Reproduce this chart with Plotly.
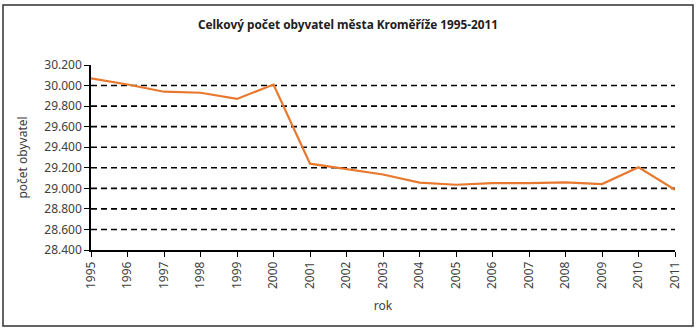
import plotly.graph_objects as go

years = list(range(1995, 2012))
population = [30070, 30010, 29940, 29930, 29870, 30010, 29240, 29185, 29135,
              29055, 29035, 29050, 29050, 29058, 29042, 29205, 28985]
y_ticks = [28400, 28600, 28800, 29000, 29200, 29400, 29600, 29800, 30000, 30200]
grid_values = [28600, 28800, 29000, 29200, 29400, 29600, 29800, 30000]

title_text = "Celkový počet obyvatel města Kroměříže 1995-2011"
x_title = "rok"
y_title = "počet obyvatel"

FONT = "Noto Sans"
TXT = "#404040"

fig = go.Figure()
fig.add_trace(go.Scatter(x=years, y=population, mode="lines",
                         line=dict(color="#E8782E", width=2.2), showlegend=False,
                         cliponaxis=False, hoverinfo="skip"))

L, R, T, B = 91, 25, 65, 79
W, H = 700, 329
pw, ph = W - L - R, H - T - B

shapes = []
for g in grid_values:
    shapes.append(dict(type="line", xref="paper", yref="y", x0=0, x1=1, y0=g, y1=g,
                       line=dict(color="black", width=1.6, dash="6px,4px"), layer="below"))


def px2x(px):
    return (px - L) / pw


def py2y(py):
    return (H - B - py) / ph


# outer chart border
shapes.append(dict(type="rect", xref="paper", yref="paper",
                   x0=px2x(3), x1=px2x(693), y0=py2y(326), y1=py2y(5),
                   line=dict(color="#303030", width=1.5), fillcolor="rgba(0,0,0,0)"))

fig.update_layout(
    width=W, height=H,
    margin=dict(l=L, r=R, t=T, b=B),
    paper_bgcolor="white", plot_bgcolor="white",
    separators=",.",
    shapes=shapes,
    title=dict(text="<b>" + title_text + "</b>", x=348 / W, xanchor="center",
               y=1 - 25 / H, yanchor="middle",
               font=dict(family=FONT, size=11.8, color="#202020")),
    xaxis=dict(range=[1995, 2011], tickmode="array", tickvals=years,
               ticktext=[str(y) for y in years], tickangle=-90,
               showgrid=False, zeroline=False, showline=True, linecolor="black",
               linewidth=1.5, ticks="outside", ticklen=5, tickcolor="black",
               tickfont=dict(family=FONT, size=12, color=TXT),
               title=dict(text=x_title, font=dict(family=FONT, size=12, color=TXT),
                          standoff=14)),
    yaxis=dict(range=[28400, 30200], tickmode="array", tickvals=y_ticks,
               tickformat=",.0f", showgrid=False, zeroline=False, showline=True,
               linecolor="black", linewidth=1.5, ticks="outside", ticklen=5,
               tickcolor="black",
               tickfont=dict(family=FONT, size=12, color=TXT),
               title=dict(text=y_title, font=dict(family=FONT, size=12, color=TXT),
                          standoff=14)),
)

fig.write_html("out.html", config={"displayModeBar": False},
               post_script="document.body.style.margin='0';document.body.style.overflow='hidden';")
